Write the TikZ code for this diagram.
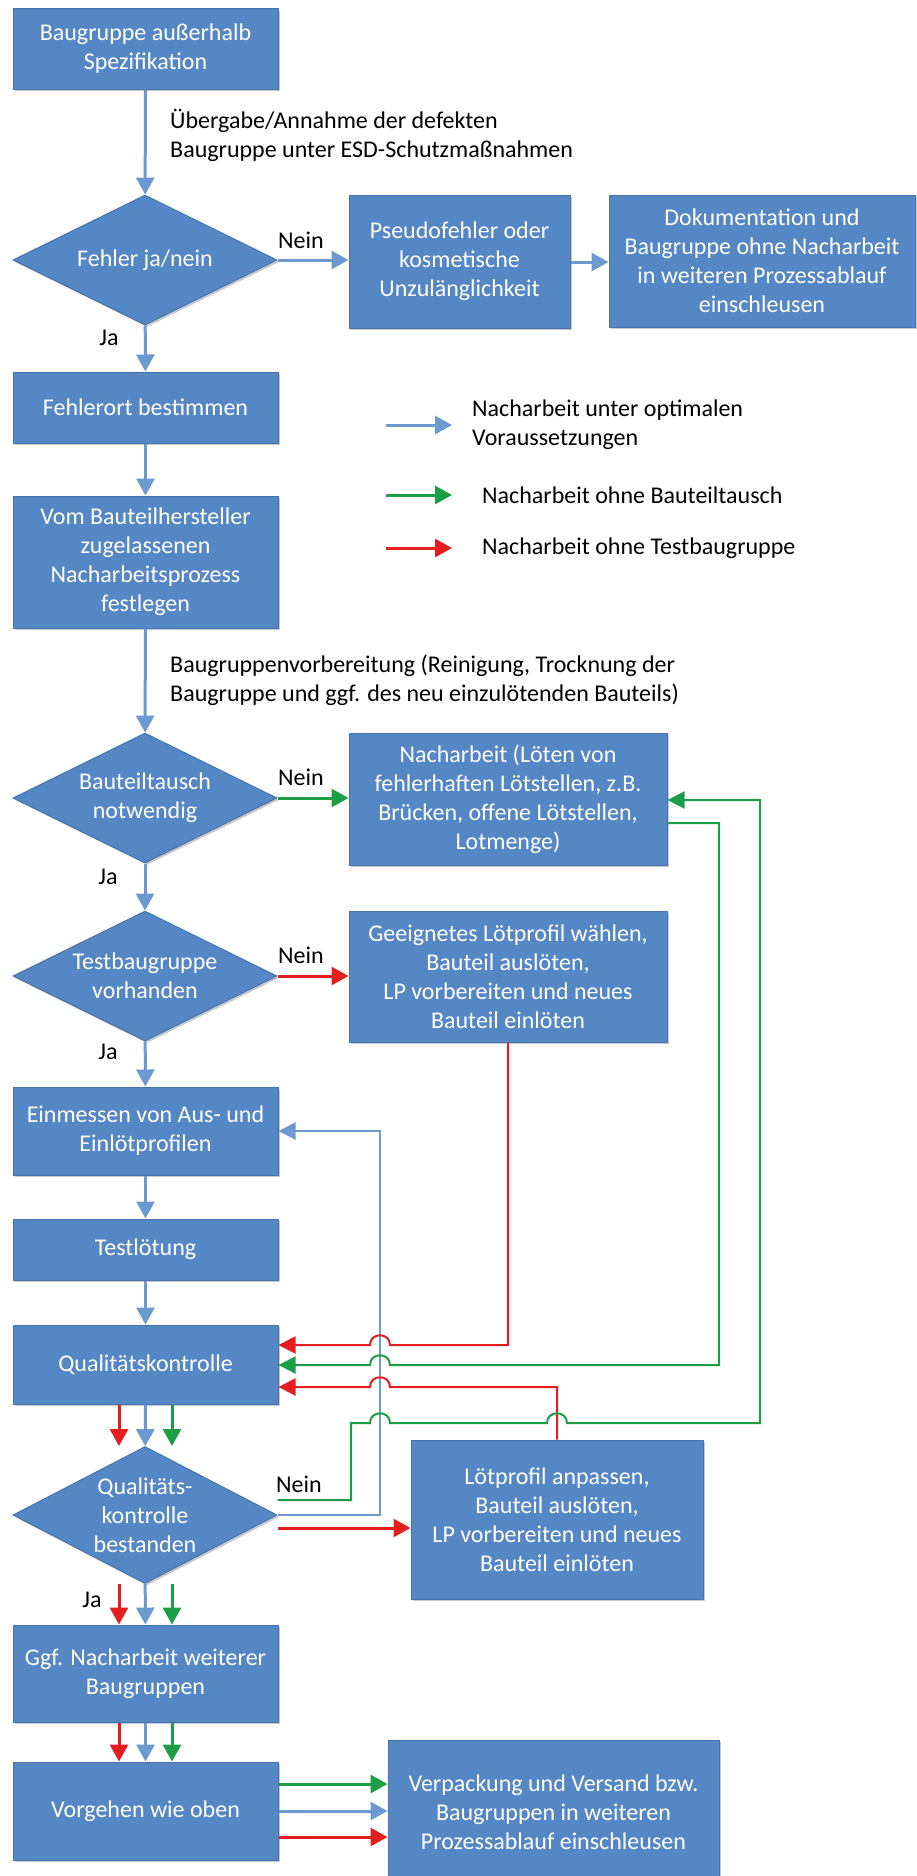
\documentclass[tikz,border=0pt]{standalone}
\usepackage{fontspec}
\setmainfont{Carlito}
\usetikzlibrary{arrows.meta,shapes.geometric,shadows}
\definecolor{boxfill}{RGB}{85,135,196}
\definecolor{boxdraw}{RGB}{70,116,174}
\definecolor{fblue}{RGB}{108,154,208}
\definecolor{fgreen}{RGB}{28,158,68}
\definecolor{fred}{RGB}{228,30,30}
\newcommand\fsz{\fontsize{24}{29}\selectfont}
\begin{document}
\begin{tikzpicture}[x=1pt,y=-1pt,
  shad/.style={drop shadow={shadow xshift=2pt,shadow yshift=-2pt,opacity=0.35,fill=black!60}},
  box/.style={rectangle, fill=boxfill, draw=boxdraw, line width=1pt, text=white, align=center, font=\fsz, inner sep=0pt, shad},
  dia/.style={diamond, fill=boxfill, draw=boxdraw, line width=1pt, inner sep=0pt, minimum width=264pt, minimum height=130pt, shad},
  wtext/.style={text=white, align=center, font=\fsz, inner sep=0pt},
  btext/.style={text=black, align=left, font=\fsz, inner sep=0pt},
  flow/.style={draw=fblue, line width=3pt, -{Triangle[length=17pt,width=18pt]}},
  fb/.style={line width=2pt, -{Triangle[length=17pt,width=17pt]}},
]
\useasboundingbox[fill=white] (0,0) rectangle (917,1876);

% main column
\node[box, minimum width=265pt, minimum height=80pt] (a) at (145.5,49) {Baugruppe außerhalb\\Spezifikation};
\node[dia, label={[wtext]center:Fehler ja/nein}] (d1) at (145,260) {};
\node[box, minimum width=221pt, minimum height=133pt] (pseudo) at (459.5,261.5) {Pseudofehler oder\\kosmetische\\Unzulänglichkeit};
\node[box, minimum width=306pt, minimum height=132pt] (dok) at (762,261) {Dokumentation und\\Baugruppe ohne Nacharbeit\\in weiteren Prozessablauf\\einschleusen};
\node[box, minimum width=265pt, minimum height=71pt] (fort) at (145.5,407.5) {Fehlerort bestimmen};
\node[box, minimum width=265pt, minimum height=132pt] (vom) at (145.5,562) {Vom Bauteilhersteller\\zugelassenen\\Nacharbeitsprozess\\festlegen};
\node[dia, label={[wtext]center:Bauteiltausch\\notwendig}] (d2) at (145,798) {};
\node[box, minimum width=318pt, minimum height=132pt] (nach) at (508,799) {Nacharbeit (Löten von\\fehlerhaften Lötstellen, z.B.\\Brücken, offene Lötstellen,\\Lotmenge)};
\node[dia, label={[wtext]center:Testbaugruppe\\vorhanden}] (d3) at (145,976) {};
\node[box, minimum width=318pt, minimum height=131pt] (geeig) at (508,976.5) {Geeignetes Lötprofil wählen,\\Bauteil auslöten,\\LP vorbereiten und neues\\Bauteil einlöten};
\node[box, minimum width=265pt, minimum height=88pt] (ein) at (145.5,1131) {Einmessen von Aus- und\\Einlötprofilen};
\node[box, minimum width=265pt, minimum height=61pt] (test) at (145.5,1249.5) {Testlötung};
\node[box, minimum width=265pt, minimum height=79pt] (qk) at (145.5,1364.5) {Qualitätskontrolle};
\node[dia, minimum height=137pt, label={[wtext]center:Qualitäts-\\kontrolle\\bestanden}] (d4) at (145,1515) {};
\node[box, minimum width=292pt, minimum height=159pt] (loet) at (557,1519.5) {Lötprofil anpassen,\\Bauteil auslöten,\\LP vorbereiten und neues\\Bauteil einlöten};
\node[box, minimum width=265pt, minimum height=97pt] (ggf) at (145.5,1673.5) {Ggf. Nacharbeit weiterer\\Baugruppen};
\node[box, minimum width=265pt, minimum height=98pt] (vorg) at (145.5,1811) {Vorgehen wie oben};
\node[box, minimum width=331pt, minimum height=144pt] (verp) at (553.5,1812) {Verpackung und Versand bzw.\\Baugruppen in weiteren\\Prozessablauf einschleusen};

% labels
\node[btext, anchor=west] (l1) at (170,135) {Übergabe/Annahme der defekten\\Baugruppe unter ESD-Schutzmaßnahmen};
\node[btext, anchor=west] (l2) at (170,680) {Baugruppenvorbereitung (Reinigung, Trocknung der\\Baugruppe und ggf. des neu einzulötenden Bauteils)};
\node[btext] (n1) at (301,240) {Nein};
\node[btext] (n2) at (301,777) {Nein};
\node[btext] (n3) at (301,955) {Nein};
\node[btext] (n4) at (299,1484) {Nein};
\node[btext] (j1) at (109,338) {Ja};
\node[btext] (j2) at (108,877) {Ja};
\node[btext] (j3) at (108,1052) {Ja};
\node[btext] (j4) at (92,1600) {Ja};

% legend
\coordinate (lg1s) at (386,425); \coordinate (lg1e) at (452,425);
\coordinate (lg2s) at (386,495); \coordinate (lg2e) at (452,495);
\coordinate (lg3s) at (386,548); \coordinate (lg3e) at (452,548);
\draw[flow] (lg1s) -- (lg1e);
\draw[flow, draw=fgreen] (lg2s) -- (lg2e);
\draw[flow, draw=fred] (lg3s) -- (lg3e);
\node[btext, anchor=west] (lt1) at (472,425) {Nacharbeit unter optimalen\\Voraussetzungen};
\node[btext, anchor=west] (lt2) at (482,495) {Nacharbeit ohne Bauteiltausch};
\node[btext, anchor=west] (lt3) at (482,548) {Nacharbeit ohne Testbaugruppe};

% main flow
\draw[flow] (a) -- (d1);
\draw[flow] (d1.east) -- (d1.east -| pseudo.west);
\draw[flow] (pseudo.east |- 0,262) -- (dok.west |- 0,262);
\draw[flow] (d1) -- (fort);
\draw[flow] (fort) -- (vom);
\draw[flow] (vom) -- (d2);
\draw[flow, draw=fgreen] (d2.east) -- (d2.east -| nach.west);
\draw[flow] (d2) -- (d3);
\draw[flow, draw=fred] (d3.east) -- (d3.east -| geeig.west);
\draw[flow] (d3) -- (ein);
\draw[flow] (ein) -- (test);
\draw[flow] (test) -- (qk);

% QK -> D4
\draw[flow, draw=fred] (qk.south -| 119,0) -- (d4.north -| 119,0);
\draw[flow] (qk) -- (d4);
\draw[flow, draw=fgreen] (qk.south -| 172,0) -- (d4.north -| 172,0);
% D4 -> ggf
\draw[flow, draw=fred] (d4.south -| 119,0) -- (ggf.north -| 119,0);
\draw[flow] (d4) -- (ggf);
\draw[flow, draw=fgreen] (d4.south -| 172,0) -- (ggf.north -| 172,0);
% ggf -> vorg
\draw[flow, draw=fred] (ggf.south -| 119,0) -- (vorg.north -| 119,0);
\draw[flow] (ggf) -- (vorg);
\draw[flow, draw=fgreen] (ggf.south -| 172,0) -- (vorg.north -| 172,0);
% vorg -> verp
\draw[flow, draw=fgreen] (vorg.east |- 0,1784) -- (verp.west |- 0,1784);
\draw[flow] (vorg.east |- 0,1811) -- (verp.west |- 0,1811);
\draw[flow, draw=fred] (vorg.east |- 0,1837) -- (verp.west |- 0,1837);

% feedback loops
\draw[fb, draw=fblue] (d4.east) -- (380,1515) -- (380,1131) -- (ein.east);
\draw[fb, draw=fred] (geeig.south) -- (geeig.south |- 0,1345) -- (390,1345) .. controls (390,1332) and (370,1332) .. (370,1345) -- (qk.east |- 0,1345);
\draw[fb, draw=fgreen] (nach.east |- 0,823) -- (719,823) -- (719,1365) -- (390,1365) .. controls (390,1352) and (370,1352) .. (370,1365) -- (qk.east |- 0,1365);
\draw[fb, draw=fred] (loet.north) -- (loet.north |- 0,1387) -- (390,1387) .. controls (390,1374) and (370,1374) .. (370,1387) -- (qk.east |- 0,1387);
\draw[fb, draw=fgreen] (d4.east |- 0,1500) -- (351,1500) -- (351,1423) -- (370,1423) .. controls (370,1410) and (390,1410) .. (390,1423) -- (547,1423) .. controls (547,1410) and (567,1410) .. (567,1423) -- (760,1423) -- (760,800) -- (nach.east |- 0,800);
\draw[flow, draw=fred] (d4.east |- 0,1528) -- (loet.west |- 0,1528);
\end{tikzpicture}
\end{document}
